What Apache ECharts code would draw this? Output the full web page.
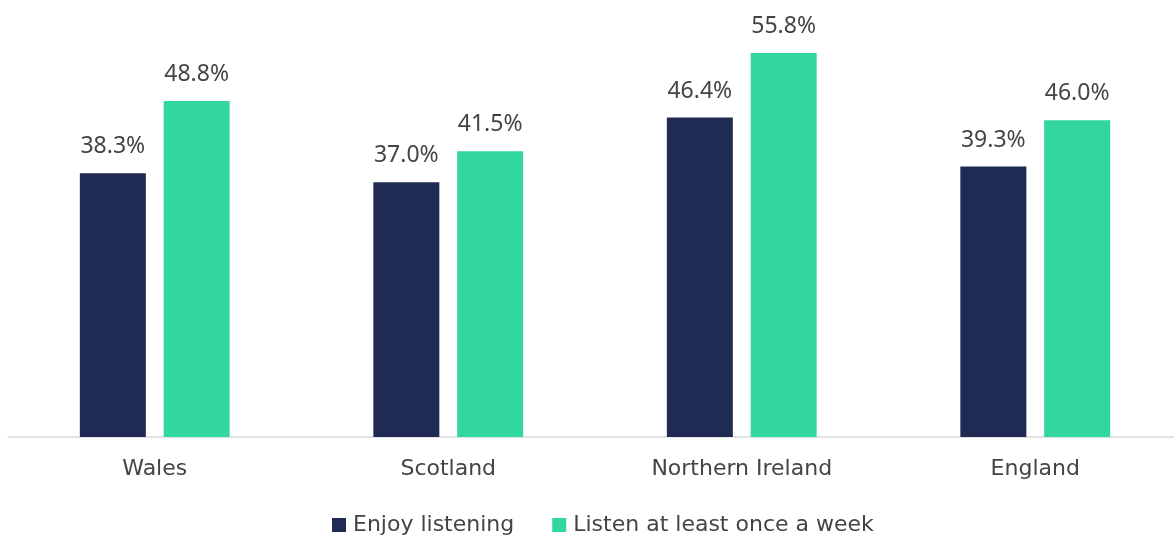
<!DOCTYPE html>
<html>
<head>
<meta charset="utf-8">
<script src="https://cdn.jsdelivr.net/npm/echarts@6/dist/echarts.min.js"></script>
<style>
  html, body { margin: 0; padding: 0; background: #fff; overflow: hidden; }
  #chart { width: 1182px; height: 535px; }
</style>
</head>
<body>
<div id="chart"></div>
<script>
// Nations and the share of listeners in each
const nations = ['Wales', 'Scotland', 'Northern Ireland', 'England'];
const enjoyListening = [38.3, 37.0, 46.4, 39.3];
const listenWeekly = [48.8, 41.5, 55.8, 46.0];
const seriesNames = ['Enjoy listening', 'Listen at least once a week'];

const NUM_FONT = 'Noto Sans';
const FONT = 'DejaVu Sans';
const TEXT = '#444';

const chart = echarts.init(document.getElementById('chart'), null, { renderer: 'canvas' });

const valueLabel = {
  show: true,
  position: 'top',
  distance: 15,
  fontFamily: NUM_FONT,
  fontSize: 23,
  color: TEXT,
  formatter: p => p.value.toFixed(1) + '%'
};

chart.setOption({
  animation: false,
  textStyle: { fontFamily: FONT },
  grid: { left: 8, right: 0, top: 24, bottom: 98, containLabel: false },
  legend: {
    top: 509,
    left: 327,
    itemWidth: 14,
    itemHeight: 14,
    itemGap: 38,
    icon: 'rect',
    textStyle: { fontFamily: FONT, fontSize: 22, color: TEXT, padding: [0, 0, 0, 2] },
    data: seriesNames
  },
  xAxis: {
    type: 'category',
    data: nations,
    axisLine: { lineStyle: { color: '#d9d9d9', width: 1.5 } },
    axisTick: { show: false },
    axisLabel: { fontFamily: FONT, fontSize: 22, color: TEXT, margin: 21 }
  },
  yAxis: {
    type: 'value',
    min: 0,
    max: 60,
    show: false,
    splitLine: { show: false }
  },
  series: [
    {
      name: seriesNames[0],
      type: 'bar',
      data: enjoyListening,
      barWidth: 66,
      barGap: '27%',
      itemStyle: { color: '#1f2b53' },
      label: valueLabel
    },
    {
      name: seriesNames[1],
      type: 'bar',
      data: listenWeekly,
      barWidth: 66,
      barGap: '27%',
      itemStyle: { color: '#31d6a0' },
      label: valueLabel
    }
  ]
});
</script>
</body>
</html>
